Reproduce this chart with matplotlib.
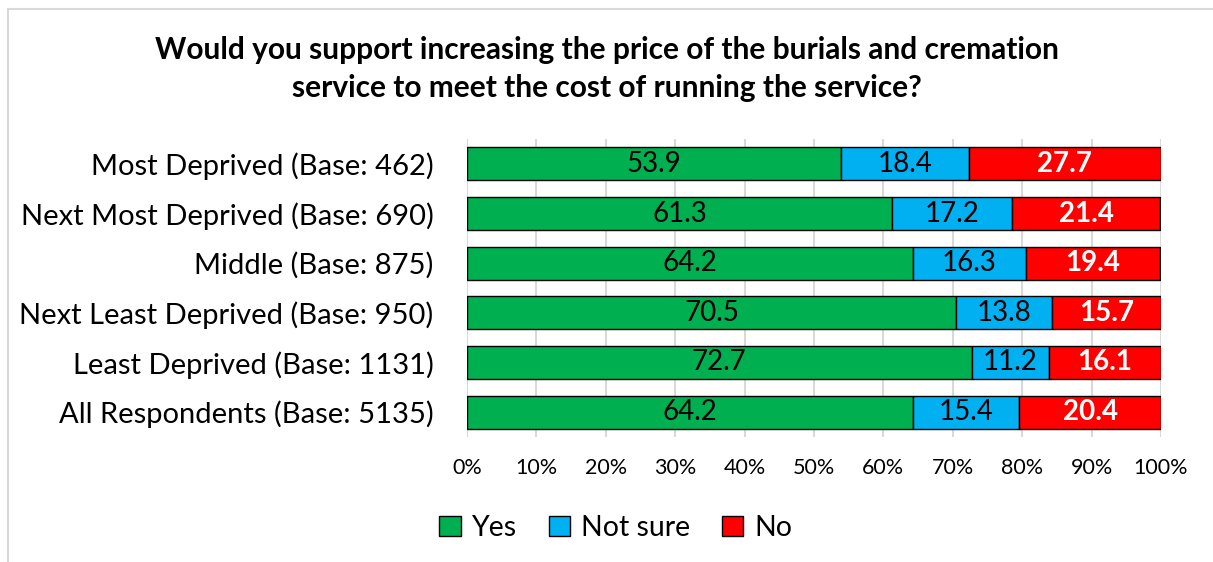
import matplotlib
matplotlib.use("Agg")
import matplotlib.pyplot as plt
from matplotlib.patches import Rectangle

categories = ["Most Deprived (Base: 462)", "Next Most Deprived (Base: 690)",
              "Middle (Base: 875)", "Next Least Deprived (Base: 950)",
              "Least Deprived (Base: 1131)", "All Respondents (Base: 5135)"]
yes = [53.9, 61.3, 64.2, 70.5, 72.7, 64.2]
not_sure = [18.4, 17.2, 16.3, 13.8, 11.2, 15.4]
no = [27.7, 21.4, 19.4, 15.7, 16.1, 20.4]
series_names = ["Yes", "Not sure", "No"]
colors = ["#00B050", "#00B0F0", "#FF0000"]
xticks = [0, 10, 20, 30, 40, 50, 60, 70, 80, 90, 100]
title = "Would you support increasing the price of the burials and cremation\nservice to meet the cost of running the service?"

plt.rcParams['font.family'] = ['Lato', 'DejaVu Sans']

fig = plt.figure(figsize=(12.13, 5.62), dpi=100)
fig.patches.append(Rectangle((8/1213, -0.1), 1.2, 1 - 9/562 + 0.1, transform=fig.transFigure,
                             fill=False, edgecolor="#D9D9D9", linewidth=1.5))
ax = fig.add_axes([467/1213, 1 - 437/562, 694/1213, 298/562])

y = list(range(len(categories)))
left = [0]*len(categories)
series = [yes, not_sure, no]
for i, (vals, name, c) in enumerate(zip(series, series_names, colors)):
    ax.barh(y, vals, left=left, height=0.67, color=c, edgecolor="black",
            linewidth=1, label=name, zorder=3)
    for yi, l, v in zip(y, left, vals):
        if i == 2:
            ax.text(l + v/2, yi, f"{v:.1f}", ha="center", va="center", color="white",
                    fontsize=20, fontweight="bold", zorder=4)
        else:
            ax.text(l + v/2, yi, f"{v:.1f}", ha="center", va="center", color="black",
                    fontsize=20, zorder=4)
    left = [a + b for a, b in zip(left, vals)]

ax.set_xlim(0, 100)
ax.set_ylim(len(categories) - 0.5, -0.5)
ax.set_yticks(y)
ax.set_yticklabels(categories, fontsize=21)
ax.set_xticks(xticks)
ax.set_xticklabels([f"{t}%" for t in xticks], fontsize=15.5)
ax.tick_params(length=0)
ax.tick_params(axis='x', pad=15)
ax.tick_params(axis='y', pad=24)
ax.grid(axis='x', color="#D9D9D9", linewidth=1.5, zorder=0)
for s in ax.spines.values():
    s.set_visible(False)

fig.text(0.5, 1 - 69/562, title, ha="center", va="center", fontsize=21.5,
         fontweight="bold", linespacing=1.42)

handles, labels = ax.get_legend_handles_labels()
fig.legend(handles, labels, loc="center", bbox_to_anchor=(616/1213, 1 - 528/562),
           ncol=3, frameon=False, fontsize=20.5, handlelength=0.75, handleheight=0.75,
           handletextpad=0.4, columnspacing=1.1)

fig.savefig("out.png", dpi=100)
